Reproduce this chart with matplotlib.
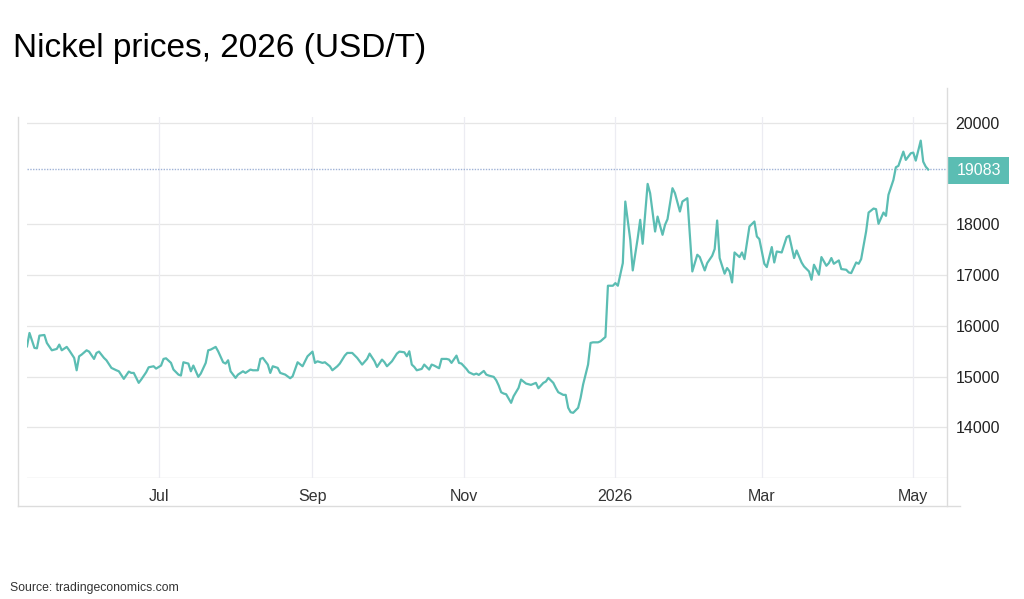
import matplotlib
matplotlib.use("Agg")
import matplotlib.pyplot as plt
from matplotlib.lines import Line2D
from matplotlib.patches import Rectangle
import pandas as pd

plt.rcParams['font.family'] = ['Liberation Sans', 'DejaVu Sans']

# ---- data ----
base_date = "2025-07-01"
# observation dates as days after 2025-07-01
day_offsets = [
    -53, -52, -50, -49, -48, -46, -45, -43, -41, -40, -39, -37, -36, -34, -33, -32, -31, -29, -28, -26,
    -25, -24, -22, -21, -19, -17, -16, -14, -12, -11, -10, -8, -7, -5, -4, -2, -1,
    1, 2, 3, 5, 6, 8, 9, 10, 12, 13, 14, 16, 17, 19, 20, 21, 23, 24,
    26, 27, 28, 29, 31, 32, 34, 35, 37, 38, 40, 41, 42, 44, 45, 46, 48, 49, 51, 53, 54, 56, 58, 60, 62,
    63, 64, 66, 67, 69, 70, 72, 73, 75, 76, 78, 80, 82, 84, 85, 87, 88, 90, 91, 92, 94, 96, 97, 99, 100, 101,
    102, 103, 104, 106, 107, 109, 110, 111, 113, 114, 116, 117, 118, 120, 121, 122,
    124, 125, 127, 128, 129, 131, 132, 133, 135, 136, 137, 138, 139, 140, 142, 143, 145, 146, 148, 149,
    150, 152, 153, 155, 156, 157, 159, 160, 161, 163, 164, 165, 166, 167, 169, 170, 171, 173, 174, 175,
    177, 178, 180,
    181, 183, 184, 185, 187, 188, 190, 191, 193, 194, 195, 197, 198, 200, 201, 203, 204, 205, 207, 208,
    210, 211, 213, 214, 215, 217, 218, 220, 221, 223, 224, 225, 226, 228, 229, 230, 231, 232, 234, 235,
    236, 238, 240, 241, 242,
    244, 245, 247, 248, 249, 251, 252, 253, 254, 256, 257, 259, 260, 262, 263, 264, 266, 267, 269, 270,
    271, 272, 274, 275, 277, 278, 279, 281, 282, 283, 285, 286, 288, 289, 290, 292, 293, 294, 296, 297,
    298, 300, 301, 303, 304, 305, 307, 308, 309, 310,
]
prices = [
    15596, 15860, 15565, 15557, 15807, 15820, 15663, 15518, 15545, 15630, 15518, 15585, 15518, 15368, 15124, 15400, 15433, 15518, 15492, 15348,
    15466, 15492, 15368, 15321, 15171, 15124, 15104, 14955, 15098, 15072, 15072, 14876, 14941, 15085, 15183, 15203, 15157,
    15217, 15348, 15360, 15270, 15138, 15039, 15020, 15282, 15256, 15104, 15217, 14994, 15059, 15270, 15518, 15532, 15585, 15498,
    15282, 15256, 15321, 15104, 14974, 15039, 15104, 15072, 15138, 15124, 15124, 15348, 15368, 15236, 15072, 15203, 15171, 15072, 15039, 14967, 15006, 15282, 15203, 15400, 15492,
    15270, 15301, 15270, 15282, 15203, 15124, 15203, 15256, 15413, 15466, 15466, 15368, 15236, 15348, 15453, 15301, 15190, 15335, 15282, 15203, 15301, 15453, 15492, 15479, 15400, 15498,
    15236, 15190, 15124, 15151, 15236, 15138, 15236, 15217, 15164, 15348, 15348, 15335, 15270, 15413, 15270, 15256,
    15151, 15085, 15039, 15059, 15033, 15111, 15039, 15020, 14994, 14928, 14823, 14691, 14665, 14652, 14482, 14612, 14777, 14941, 14862, 14849,
    14836, 14876, 14770, 14876, 14902, 14974, 14876, 14777, 14691, 14639, 14639, 14384, 14297, 14285, 14384, 14581, 14843, 15236, 15663, 15675,
    15675, 15695, 15781,
    16791, 16791, 16843, 16791, 17238, 18451, 17697, 17093, 17730, 18091, 17618, 18799, 18616, 17860, 18155, 17795, 17992, 18104, 18714, 18616,
    18254, 18451, 18517, 17795, 17073, 17402, 17356, 17093, 17238, 17382, 17514, 18077, 17337, 17028, 17140, 17073, 16856, 17447, 17356, 17447,
    17316, 17959, 18057, 17762, 17710,
    17224, 17159, 17553, 17250, 17466, 17447, 17598, 17750, 17776, 17337, 17486, 17250, 17171, 17073, 16909, 17205, 17008, 17356, 17185, 17238,
    17337, 17224, 17290, 17120, 17106, 17053, 17040, 17250, 17224, 17316, 17860, 18234, 18313, 18301, 18012, 18234, 18169, 18583, 18878, 19128,
    19154, 19435, 19272, 19403, 19416, 19258, 19652, 19238, 19140, 19083,
]
last_value = 19083
y_ticks = [14000, 15000, 16000, 17000, 18000, 20000]
x_tick_dates = ["2025-07-01", "2025-09-01", "2025-11-01", "2026-01-01", "2026-03-01", "2026-05-01"]
x_tick_labels = ["Jul", "Sep", "Nov", "2026", "Mar", "May"]
title = "Nickel prices, 2026 (USD/T)"
source = "Source: tradingeconomics.com"

dates = pd.Timestamp(base_date) + pd.to_timedelta(day_offsets, unit="D")

# ---- figure ----
W, H = 1024, 599
fig = plt.figure(figsize=(W / 100, H / 100), dpi=100)
fig.patch.set_facecolor("white")

def fx(px):
    return px / W

def fy(py):
    return 1 - py / H

left_px, right_px, top_px, bottom_px = 27, 947, 117, 478
ax = fig.add_axes([fx(left_px), fy(bottom_px), fx(right_px - left_px), (bottom_px - top_px) / H])

line_color = "#5bbdb3"
grid_color = "#e6e6e6"
frame_color = "#dcdcdc"

ax.plot(dates, prices, color=line_color, lw=1.6, solid_joinstyle="round", zorder=3)
ax.axhline(last_value, color="#9fb2d6", lw=1.0, ls=(0, (1, 1)), zorder=2)

ax.set_xlim(pd.Timestamp("2025-05-09"), pd.Timestamp("2026-05-14 14:00"))
ax.set_ylim(13000, 20118)

for s in ax.spines.values():
    s.set_visible(False)

# grid
for t in y_ticks:
    ax.axhline(t, color=grid_color, lw=0.9, zorder=1)
ax.axhline(13000, color=frame_color, lw=1.0, zorder=1)
tick_dates = pd.to_datetime(x_tick_dates)
for d in tick_dates:
    ax.axvline(d, color="#ececf2", lw=0.9, zorder=1)

ax.set_xticks(tick_dates)
ax.set_xticklabels(x_tick_labels)
ax.tick_params(axis="x", length=0, pad=8, labelsize=11.5, labelcolor="#333333")
ax.yaxis.tick_right()
ax.set_yticks(y_ticks)
ax.set_yticklabels([str(t) for t in y_ticks])
ax.tick_params(axis="y", length=0, pad=6, labelsize=11.5, labelcolor="#222222")
for lab in ax.get_yticklabels():
    lab.set_horizontalalignment("left")

# outer frame lines
fig.add_artist(Line2D([fx(18), fx(18)], [fy(117), fy(506)], color=frame_color, lw=1.0))
fig.add_artist(Line2D([fx(18), fx(960)], [fy(506), fy(506)], color=frame_color, lw=1.0))
fig.add_artist(Line2D([fx(947), fx(947)], [fy(88), fy(506)], color=frame_color, lw=1.0))

# last value box
box_h = 27
yc = ax.transData.transform((0, last_value))[1]
yc_top = H - yc
fig.add_artist(Rectangle((fx(948), fy(yc_top + box_h / 2 + 1)), fx(61), box_h / H,
                         facecolor=line_color, edgecolor="none"))
fig.text(fx(979), fy(yc_top + 1), f"{last_value}", color="white", fontsize=11.5,
         ha="center", va="center")

# titles
fig.text(fx(13), fy(57), title, fontsize=24, color="#000000", ha="left", va="baseline")
fig.text(fx(10), fy(588), source, fontsize=8.8, color="#333333", ha="left", va="center")

fig.savefig("out.png", dpi=100, facecolor="white")
